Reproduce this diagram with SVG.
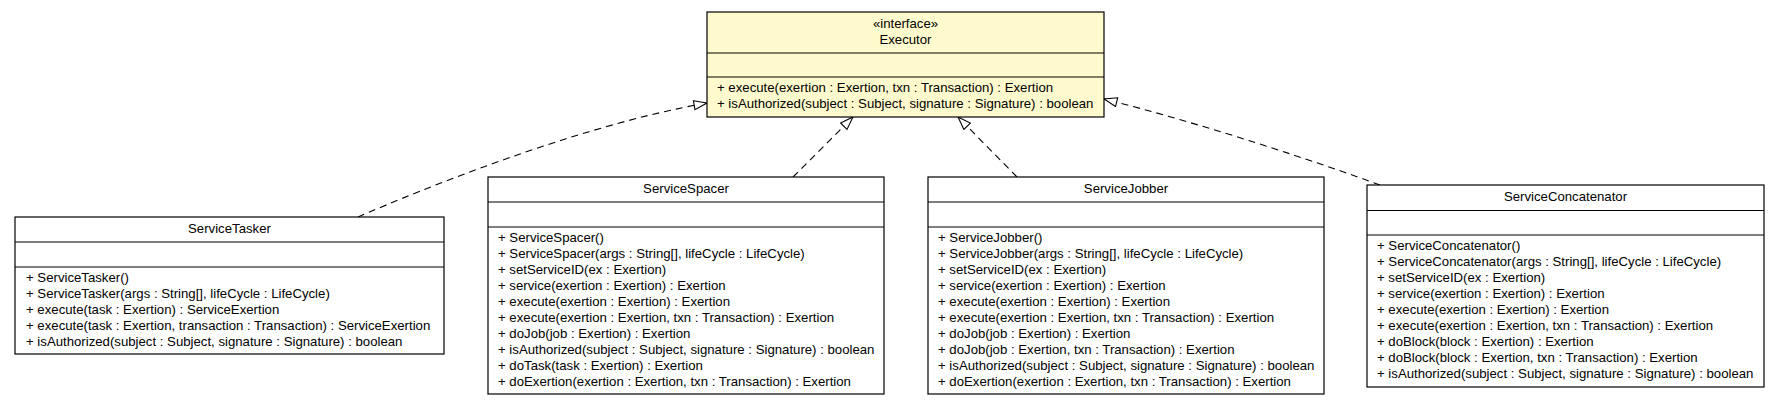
<svg xmlns="http://www.w3.org/2000/svg" width="1779" height="405" viewBox="0 0 1779 405">
<style>
.box{fill:#ffffff;stroke:#000000;stroke-width:1.2}
.iface{fill:#fffacd;stroke:#000000;stroke-width:1.2}
.div{stroke:#000000;stroke-width:1.2}
text{font-family:"Liberation Sans",Arial,sans-serif;font-size:13.2px;fill:#000000}
.t{text-anchor:middle}
.edge{fill:none;stroke:#000000;stroke-width:1.1;stroke-dasharray:7,5}
</style>
<defs>
<marker id="tri" markerUnits="userSpaceOnUse" markerWidth="16" markerHeight="12" refX="14" refY="5" orient="auto" viewBox="0 0 16 12">
<path d="M1,0.5 L14,5 L1,9.5 Z" fill="#ffffff" stroke="#000000" stroke-width="1.1"/>
</marker>
</defs>
<rect width="1779" height="405" fill="#ffffff"/>
<g id="connectors">
<path class="edge" d="M358,217 C420,190 580,125 707,103" marker-end="url(#tri)"/>
<path class="edge" d="M793,177 L853,117" marker-end="url(#tri)"/>
<path class="edge" d="M1017,177 L958,117" marker-end="url(#tri)"/>
<path class="edge" d="M1380,185 C1320,163 1204,124 1104,99" marker-end="url(#tri)"/>
</g>
<g id="Executor">
<rect class="iface" x="707" y="12" width="397" height="105"/>
<line class="div" x1="707" y1="53" x2="1104" y2="53"/>
<line class="div" x1="707" y1="77" x2="1104" y2="77"/>
<text class="t" x="905.5" y="28">«interface»</text>
<text class="t" x="905.5" y="44">Executor</text>
<text x="717" y="92">+ execute(exertion : Exertion, txn : Transaction) : Exertion</text>
<text x="717" y="108">+ isAuthorized(subject : Subject, signature : Signature) : boolean</text>
</g>
<g id="ServiceTasker">
<rect class="box" x="15" y="217" width="429" height="137"/>
<line class="div" x1="15" y1="242" x2="444" y2="242"/>
<line class="div" x1="15" y1="267" x2="444" y2="267"/>
<text class="t" x="229.5" y="233">ServiceTasker</text>
<text x="26" y="282">+ ServiceTasker()</text>
<text x="26" y="298">+ ServiceTasker(args : String[], lifeCycle : LifeCycle)</text>
<text x="26" y="314">+ execute(task : Exertion) : ServiceExertion</text>
<text x="26" y="330">+ execute(task : Exertion, transaction : Transaction) : ServiceExertion</text>
<text x="26" y="346">+ isAuthorized(subject : Subject, signature : Signature) : boolean</text>
</g>
<g id="ServiceSpacer">
<rect class="box" x="488" y="177" width="396" height="217"/>
<line class="div" x1="488" y1="202" x2="884" y2="202"/>
<line class="div" x1="488" y1="227" x2="884" y2="227"/>
<text class="t" x="686" y="193">ServiceSpacer</text>
<text x="498" y="242">+ ServiceSpacer()</text>
<text x="498" y="258">+ ServiceSpacer(args : String[], lifeCycle : LifeCycle)</text>
<text x="498" y="274">+ setServiceID(ex : Exertion)</text>
<text x="498" y="290">+ service(exertion : Exertion) : Exertion</text>
<text x="498" y="306">+ execute(exertion : Exertion) : Exertion</text>
<text x="498" y="322">+ execute(exertion : Exertion, txn : Transaction) : Exertion</text>
<text x="498" y="338">+ doJob(job : Exertion) : Exertion</text>
<text x="498" y="354">+ isAuthorized(subject : Subject, signature : Signature) : boolean</text>
<text x="498" y="370">+ doTask(task : Exertion) : Exertion</text>
<text x="498" y="386">+ doExertion(exertion : Exertion, txn : Transaction) : Exertion</text>
</g>
<g id="ServiceJobber">
<rect class="box" x="928" y="177" width="396" height="217"/>
<line class="div" x1="928" y1="202" x2="1324" y2="202"/>
<line class="div" x1="928" y1="227" x2="1324" y2="227"/>
<text class="t" x="1126" y="193">ServiceJobber</text>
<text x="938" y="242">+ ServiceJobber()</text>
<text x="938" y="258">+ ServiceJobber(args : String[], lifeCycle : LifeCycle)</text>
<text x="938" y="274">+ setServiceID(ex : Exertion)</text>
<text x="938" y="290">+ service(exertion : Exertion) : Exertion</text>
<text x="938" y="306">+ execute(exertion : Exertion) : Exertion</text>
<text x="938" y="322">+ execute(exertion : Exertion, txn : Transaction) : Exertion</text>
<text x="938" y="338">+ doJob(job : Exertion) : Exertion</text>
<text x="938" y="354">+ doJob(job : Exertion, txn : Transaction) : Exertion</text>
<text x="938" y="370">+ isAuthorized(subject : Subject, signature : Signature) : boolean</text>
<text x="938" y="386">+ doExertion(exertion : Exertion, txn : Transaction) : Exertion</text>
</g>
<g id="ServiceConcatenator">
<rect class="box" x="1367" y="185" width="397" height="202"/>
<line class="div" x1="1367" y1="210.5" x2="1764" y2="210.5"/>
<line class="div" x1="1367" y1="235" x2="1764" y2="235"/>
<text class="t" x="1565.5" y="201">ServiceConcatenator</text>
<text x="1377" y="250">+ ServiceConcatenator()</text>
<text x="1377" y="266">+ ServiceConcatenator(args : String[], lifeCycle : LifeCycle)</text>
<text x="1377" y="282">+ setServiceID(ex : Exertion)</text>
<text x="1377" y="298">+ service(exertion : Exertion) : Exertion</text>
<text x="1377" y="314">+ execute(exertion : Exertion) : Exertion</text>
<text x="1377" y="330">+ execute(exertion : Exertion, txn : Transaction) : Exertion</text>
<text x="1377" y="346">+ doBlock(block : Exertion) : Exertion</text>
<text x="1377" y="362">+ doBlock(block : Exertion, txn : Transaction) : Exertion</text>
<text x="1377" y="378">+ isAuthorized(subject : Subject, signature : Signature) : boolean</text>
</g>
</svg>
